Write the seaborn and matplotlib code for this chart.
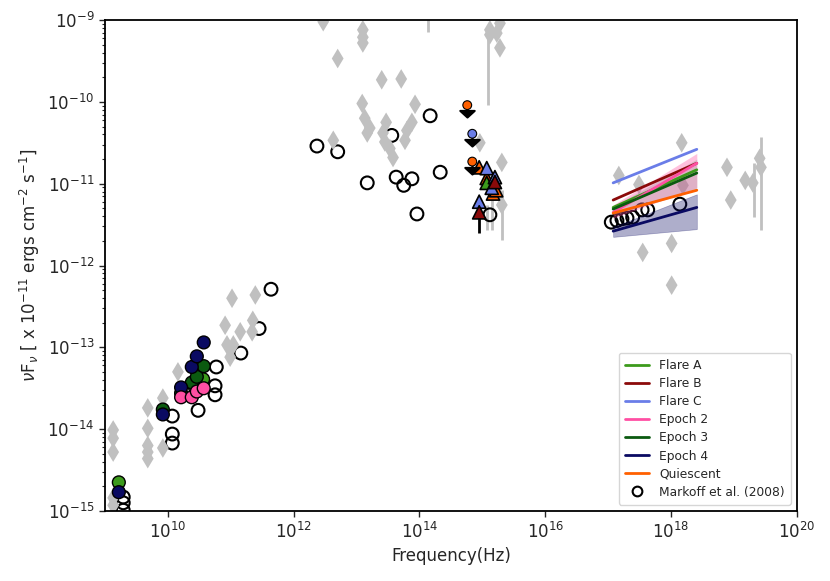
"""
Multi-wavelength SED: flare / epoch power-law fits with archival points
"""

import numpy as np
import pandas as pd
import matplotlib
matplotlib.use('Agg')
import matplotlib.pyplot as plt
import matplotlib.ticker as mticker
from matplotlib.lines import Line2D
from matplotlib.path import Path
import seaborn as sns

# ---- data (log10 frequency in Hz, log10 nuFnu) ----
arch_lognu = [9.13, 9.13, 9.13, 9.13, 9.13, 9.68, 9.68, 9.68, 9.68, 9.68,
              9.92, 9.92, 10.16, 10.91, 10.94, 10.99, 11.02, 11.04, 11.15, 11.34,
              11.35, 11.39,
              12.47, 12.63, 12.70, 13.09, 13.10, 13.10, 13.10, 13.13, 13.21, 13.17,
              13.40, 13.47, 13.42, 13.45, 13.53, 13.58, 13.71, 13.93, 13.88, 13.80,
              13.77,
              15.12, 15.23, 15.28, 15.28, 15.12, 14.96, 15.31, 15.31,
              17.17, 17.49, 18.17, 18.19, 18.89, 18.95, 19.18, 19.30, 19.41, 19.43,
              17.55, 18.01, 18.01]
arch_logf = [-14.01, -14.11, -14.28, -14.84, -14.93, -13.74, -13.99, -14.20, -14.28, -14.36,
             -13.62, -14.23, -13.30, -12.73, -12.97, -13.12, -12.40, -12.97, -12.81, -12.81,
             -12.67, -12.36,
             -9.02, -10.47, -9.47, -10.02, -9.12, -9.21, -9.28, -10.20, -10.32, -10.38,
             -9.73, -10.25, -10.38, -10.49, -10.57, -10.68, -9.72, -10.03, -10.25, -10.35,
             -10.47,
             -9.12, -9.16, -9.04, -9.34, -9.18, -10.50, -10.74, -11.26,
             -10.90, -11.01, -10.50, -11.02, -10.80, -11.20, -10.96, -10.99, -10.69, -10.80,
             -11.84, -11.73, -12.24]

# archival error bars (log10 nu, low, high)
arch_err_lognu = [14.13, 15.09, 15.31, 15.15, 15.07, 19.32, 19.43]
arch_err_lo = [-9.15, -10.04, -11.69, -11.57, -11.57, -11.41, -11.57]
arch_err_hi = [-8.95, -9.06, -11.08, -11.20, -11.26, -10.75, -10.43]

markoff_lognu = [9.29, 9.29, 9.29, 10.07, 10.07, 10.07, 10.48, 10.75, 10.75, 10.77,
                 11.16, 11.45, 11.64,
                 12.37, 12.70, 13.17, 13.63, 13.75, 13.88, 14.33, 13.96, 14.17, 13.56,
                 15.12,
                 17.05, 17.14, 17.22, 17.30, 17.39, 17.54, 17.63, 18.14]
markoff_logf = [-14.83, -14.90, -14.99, -13.84, -14.06, -14.17, -13.77, -13.47, -13.58, -13.24,
                -13.07, -12.77, -12.29,
                -10.54, -10.61, -10.99, -10.92, -11.02, -10.94, -10.86, -11.37, -10.17, -10.41,
                -11.38,
                -11.47, -11.45, -11.43, -11.42, -11.41, -11.32, -11.32, -11.25]

# radio points per state
radio_state = ['Flare A', 'Flare A', 'Flare A',
               'Epoch 3', 'Epoch 3', 'Epoch 3', 'Epoch 3', 'Epoch 3',
               'Epoch 4', 'Epoch 4', 'Epoch 4', 'Epoch 4', 'Epoch 4', 'Epoch 4',
               'Epoch 2', 'Epoch 2', 'Epoch 2', 'Epoch 2']
radio_lognu = [9.22, 10.56, 10.43,
               9.92, 10.21, 10.38, 10.46, 10.57,
               9.22, 9.92, 10.21, 10.38, 10.46, 10.57,
               10.21, 10.38, 10.46, 10.57]
radio_logf = [-14.65, -13.39, -13.49,
              -13.76, -13.56, -13.43, -13.36, -13.23,
              -14.77, -13.82, -13.49, -13.24, -13.11, -12.94,
              -13.61, -13.61, -13.54, -13.50]

# NIR points (triangles) and upper limits
nir_state = ['Quiescent', 'Quiescent', 'Quiescent', 'Quiescent',
             'Flare A', 'Flare C', 'Flare C', 'Flare C', 'Flare B', 'Flare C', 'Flare B']
nir_lognu = [14.95, 15.07, 15.17, 15.22,
             15.07, 15.07, 15.20, 15.15, 15.20, 14.95, 14.95]
nir_logf = [-10.80, -10.93, -11.12, -11.08,
            -10.99, -10.81, -10.92, -11.05, -10.98, -11.22, -11.35]
nir_err_lognu = [14.95]
nir_err_lo = [-11.60]
nir_err_hi = [-11.20]

ul_state = ['Quiescent', 'Flare C', 'Quiescent']
ul_lognu = [14.76, 14.84, 14.84]
ul_logf = [-10.04, -10.39, -10.73]

# X-ray power laws: flux at band edges
xray_lognu = [17.08, 18.41]
fit_names = ['Flare A', 'Flare B', 'Flare C', 'Epoch 2', 'Epoch 3', 'Epoch 4', 'Quiescent']
fit_start = [-11.29, -11.20, -10.99, -11.35, -11.31, -11.58, -11.36]
fit_end = [-10.83, -10.75, -10.58, -10.75, -10.87, -11.29, -11.08]

band_epoch4_lo = [-11.65, -11.555]
band_epoch4_hi = [-11.53, -11.13]
band_epoch2_lo = [-11.42, -11.05]
band_epoch2_hi = [-11.26, -10.63]
band_grey_lo = [-11.38, -11.08]
band_grey_hi = [-11.28, -10.70]

colors = {
    'Flare A': '#3c9a1c',
    'Flare B': '#8b0a0a',
    'Flare C': '#6a7de8',
    'Epoch 2': '#ff4fa3',
    'Epoch 3': '#0b5a10',
    'Epoch 4': '#0a0a62',
    'Quiescent': '#ff6000',
}

sns.set_style('ticks')
plt.rcParams['font.family'] = ['DejaVu Sans']
plt.rcParams['mathtext.fontset'] = 'dejavusans'

fig = plt.figure(figsize=(8.3, 5.81), dpi=100)
ax = fig.add_axes([0.1265, 0.1205, 0.8335, 0.845])
ax.set_xscale('log')
ax.set_yscale('log')

# Markoff open circles (sit under the archival diamonds)
mk = pd.DataFrame({'nu': 10 ** np.array(markoff_lognu), 'f': 10 ** np.array(markoff_logf)})
ax.scatter(mk['nu'], mk['f'], s=85, facecolor='none', edgecolor='black',
           linewidth=1.5, zorder=1.5)

# archival grey points
ax.vlines(10 ** np.array(arch_err_lognu), 10 ** np.array(arch_err_lo),
          10 ** np.array(arch_err_hi), color='#c0c0c0', lw=2, zorder=1)
arch = pd.DataFrame({'nu': 10 ** np.array(arch_lognu), 'f': 10 ** np.array(arch_logf)})
sns.scatterplot(data=arch, x='nu', y='f', marker='d', s=100, color='#c0c0c0',
                edgecolor='none', linewidth=0, ax=ax, zorder=2)

# X-ray bands and fits
xnu = 10 ** np.array(xray_lognu)
ax.fill_between(xnu, 10 ** np.array(band_epoch4_lo), 10 ** np.array(band_epoch4_hi),
                color=colors['Epoch 4'], alpha=0.33, lw=0.5, zorder=3)
ax.fill_between(xnu, 10 ** np.array(band_epoch2_lo), 10 ** np.array(band_epoch2_hi),
                color=colors['Epoch 2'], alpha=0.35, lw=0, zorder=3)
ax.fill_between(xnu, 10 ** np.array(band_grey_lo), 10 ** np.array(band_grey_hi),
                color='grey', alpha=0.25, lw=0, zorder=3)
for name, f0, f1 in zip(fit_names, fit_start, fit_end):
    sns.lineplot(x=xnu, y=10 ** np.array([f0, f1]), color=colors[name], lw=2,
                 ax=ax, zorder=4)

# radio coloured circles
radio = pd.DataFrame({'state': radio_state, 'nu': 10 ** np.array(radio_lognu),
                      'f': 10 ** np.array(radio_logf)})
sns.scatterplot(data=radio, x='nu', y='f', hue='state', palette=colors, s=85,
                edgecolor='black', linewidth=1.0, legend=False, ax=ax, zorder=6)

# NIR triangles
ax.vlines(10 ** np.array(nir_err_lognu), 10 ** np.array(nir_err_lo),
          10 ** np.array(nir_err_hi), color='black', lw=2, zorder=6)
nir = pd.DataFrame({'state': nir_state, 'nu': 10 ** np.array(nir_lognu),
                    'f': 10 ** np.array(nir_logf)})
sns.scatterplot(data=nir, x='nu', y='f', hue='state', palette=colors, marker='^',
                s=90, edgecolor='black', linewidth=1.2, legend=False, ax=ax, zorder=7)

# upper limits: black down arrows hanging from a small coloured dot
arrow = Path([(0, 0), (0, -0.45), (-0.6, -0.45), (0, -1.0), (0.6, -0.45), (0, -0.45)],
             [Path.MOVETO, Path.LINETO, Path.MOVETO, Path.LINETO, Path.LINETO, Path.CLOSEPOLY])
ul = pd.DataFrame({'state': ul_state, 'nu': 10 ** np.array(ul_lognu),
                   'f': 10 ** np.array(ul_logf)})
ax.scatter(ul['nu'], ul['f'], marker=arrow, s=300, color='black',
           linewidth=1.5, zorder=7)
sns.scatterplot(data=ul, x='nu', y='f', hue='state', palette=colors, s=40,
                edgecolor='black', linewidth=0.8, legend=False, ax=ax, zorder=8)

ax.set_xlim(1e9, 1e20)
ax.set_ylim(1e-15, 1e-9)
ax.set_xticks([1e10, 1e12, 1e14, 1e16, 1e18, 1e20])
ax.set_yticks([1e-15, 1e-14, 1e-13, 1e-12, 1e-11, 1e-10, 1e-9])
ax.xaxis.set_minor_locator(mticker.NullLocator())
ax.yaxis.set_minor_locator(mticker.LogLocator(base=10, subs=np.arange(2, 10), numticks=20))
ax.yaxis.set_minor_formatter(mticker.NullFormatter())
ax.tick_params(axis='both', which='major', labelsize=12, length=4, width=1, direction='out')
ax.tick_params(axis='y', which='minor', length=2.5, width=0.8)
for sp in ax.spines.values():
    sp.set_linewidth(1.3)
    sp.set_color('black')

ax.set_xlabel('Frequency(Hz)', fontsize=12)
ax.set_ylabel(r'$\nu$F$_\nu$ [ x 10$^{-11}$ ergs cm$^{-2}$ s$^{-1}$]', fontsize=12)

handles = [Line2D([0], [0], color=colors[n], lw=2) for n in fit_names]
handles.append(Line2D([0], [0], marker='o', ls='none', markerfacecolor='none',
                      markeredgecolor='black', markeredgewidth=1.5, markersize=7))
ax.legend(handles, fit_names + ['Markoff et al. (2008)'], loc='lower right',
          fontsize=8.8, frameon=True, borderpad=0.5, labelspacing=0.42)

fig.savefig('out.png', dpi=100)
plt.close(fig)
